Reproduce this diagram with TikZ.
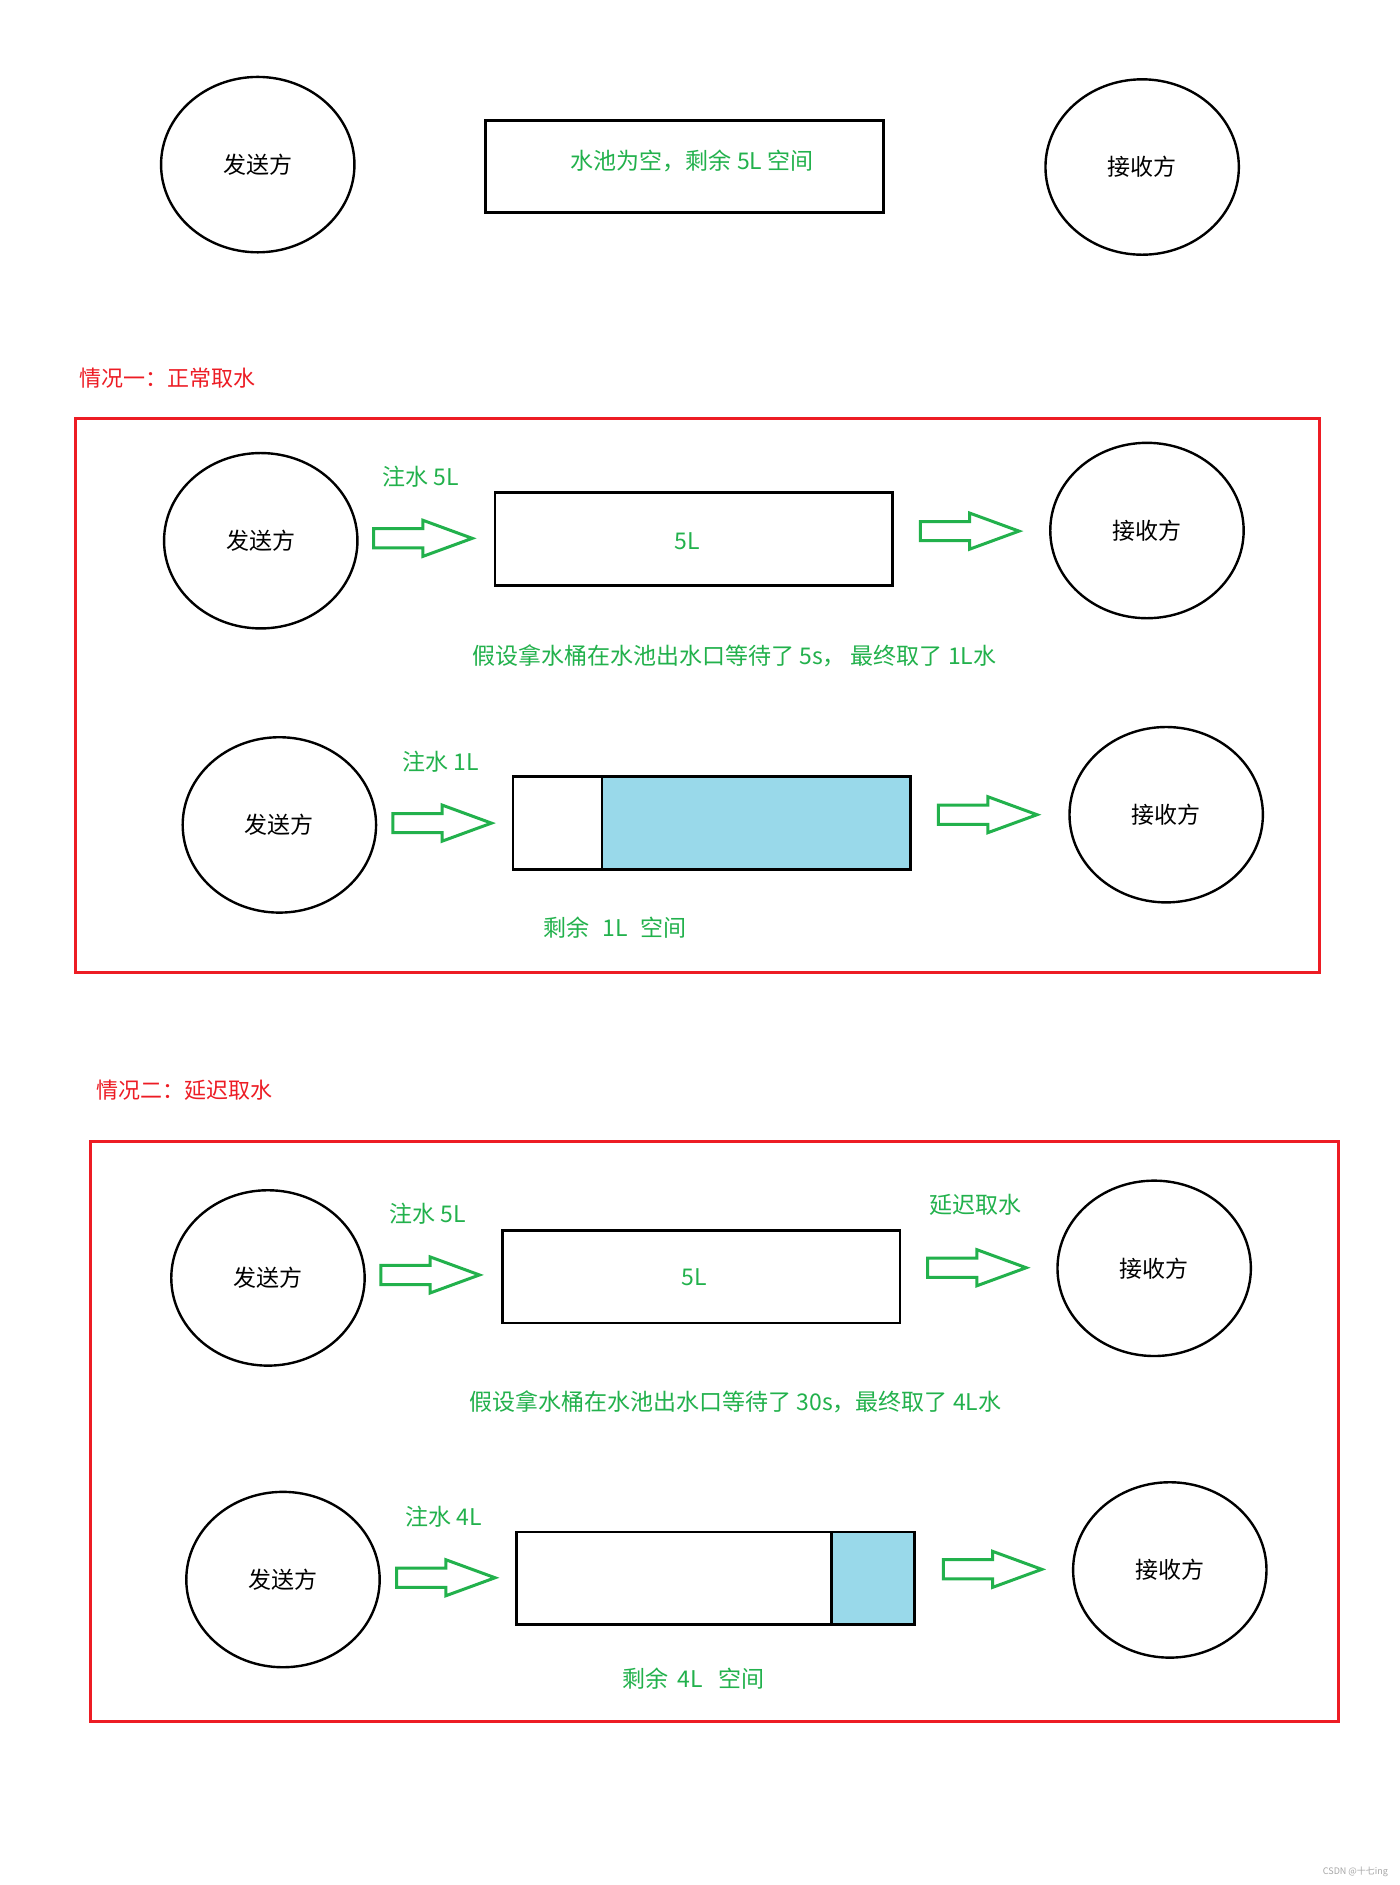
\documentclass[tikz,border=0pt]{standalone}
\usepackage{fontspec}
\setmainfont{Noto Sans CJK SC}
\usetikzlibrary{shapes.geometric}
\definecolor{pgreen}{RGB}{34,177,76}
\definecolor{pred}{RGB}{237,28,36}
\definecolor{pblue}{RGB}{153,217,234}
\tikzset{
  party/.style={draw,ellipse,line width=1.2pt,inner sep=0pt,minimum width=96.7pt,minimum height=87.7pt,font=\fontsize{11.5}{13}\selectfont},
  pool/.style={draw,rectangle,line width=1.4pt,inner sep=0pt,minimum width=198.9pt,minimum height=46.3pt},
  gtext/.style={text=pgreen,inner sep=0pt,font=\fontsize{11.5}{13}\selectfont},
  rtext/.style={text=pred,inner sep=0pt,font=\fontsize{11}{13}\selectfont,anchor=west},
  redbox/.style={draw=pred,line width=1.5pt},
  arrowline/.style={draw=pgreen,line width=1.5pt,line join=miter},
  blockarr/.pic={\draw[arrowline] (0,-8) -- (41,-8) -- (41,-15) -- (82,0) -- (41,15) -- (41,8) -- (0,8) -- cycle;}
}
\begin{document}
\begin{tikzpicture}[x=0.60085pt,y=-0.60085pt]
\useasboundingbox[fill=white] (0,0) rectangle (1165,1568.7);

% top row
\node[party] (s0) at (214.5,137) {发送方};
\node[pool] (p0) at (569.5,138.5) {};
\node[gtext] (t0) at (576,134) {水池为空，剩余 5L 空间};
\node[party] (r0) at (950.5,139) {接收方};

% case 1
\node[rtext] (h1) at (66,315) {情况一：正常取水};
\draw[redbox] (63,348) rectangle (1098,809);

\node[party] (s1) at (217,450) {发送方};
\node[gtext] (l1) at (350,397) {注水 5L};
\pic at (311,448) {blockarr};
\node[pool] (p1) at (577.5,448.5) {};
\node[gtext] (v1) at (572,450) {5L};
\pic at (766,442) {blockarr};
\node[party] (r1) at (954.5,441.5) {接收方};
\node[gtext] (n1) at (611,546) {假设拿水桶在水池出水口等待了 5s， 最终取了 1L水};

\node[party] (s2) at (232.5,686.5) {发送方};
\node[gtext] (l2) at (367,634) {注水 1L};
\pic at (327,685) {blockarr};
\fill[pblue] (501,647) rectangle (758,723);
\node[pool] (p2) at (592.5,685) {};
\draw[line width=1.2pt] (501,647) -- (501,723);
\pic at (781,678) {blockarr};
\node[party] (r2) at (970.5,678) {接收方};
\node[gtext] (m2) at (512,772) {剩余\hspace{0.55em}1L\hspace{0.55em}空间};

% case 2
\node[rtext] (h2) at (80,907) {情况二：延迟取水};
\draw[redbox] (75,950) rectangle (1114,1433);

\node[party] (s3) at (223,1063.5) {发送方};
\node[gtext] (l3) at (356,1010) {注水 5L};
\pic at (317,1061) {blockarr};
\node[pool] (p3) at (583.5,1062.5) {};
\node[gtext] (v3) at (578,1063) {5L};
\node[gtext] (d3) at (812,1003) {延迟取水};
\pic at (772,1055) {blockarr};
\node[party] (r3) at (960.5,1055.5) {接收方};
\node[gtext] (n3) at (612,1167) {假设拿水桶在水池出水口等待了 30s，最终取了 4L水};

\node[party] (s4) at (235.5,1314.5) {发送方};
\node[gtext] (l4) at (369,1262) {注水 4L};
\pic at (330,1313) {blockarr};
\fill[pblue] (692,1275) rectangle (761,1352);
\node[pool] (p4) at (595.5,1313.5) {};
\draw[line width=1.2pt] (692,1275) -- (692,1352);
\pic at (785,1306) {blockarr};
\node[party] (r4) at (973.5,1306.5) {接收方};
\node[gtext] (m4) at (577,1397) {剩余\hspace{0.4em}4L\hspace{0.7em}空间};

\node[text=gray!70,inner sep=0pt,font=\fontsize{4.5}{5}\selectfont] (wm) at (1128,1558) {CSDN @十七ing};
\end{tikzpicture}
\end{document}
